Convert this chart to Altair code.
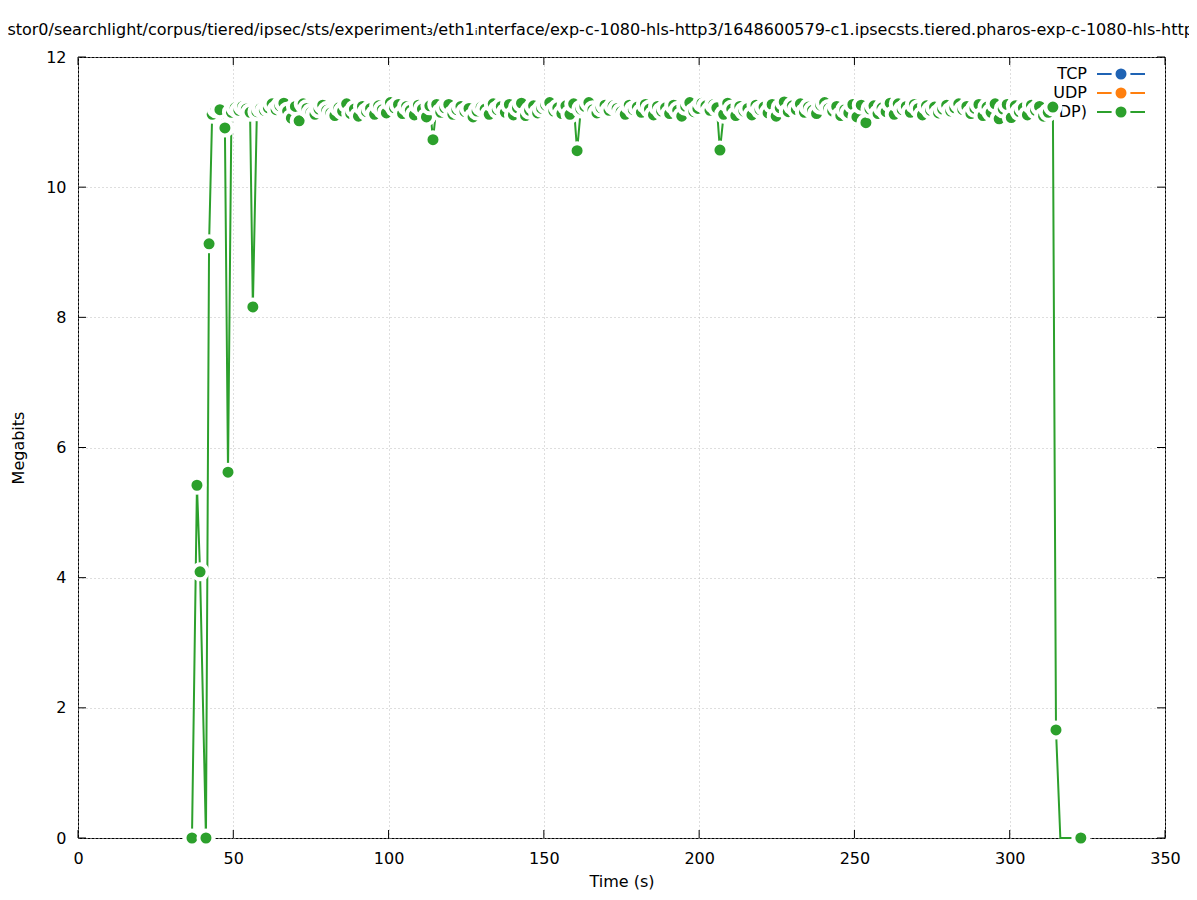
import altair as alt
import pandas as pd

# ---------------- data ----------------
TIME = [
    36.7, 38.3, 39.3, 41.2, 42.2, 43.2, 44.5, 45.7, 47.3, 48.3,
    49.4, 50.6, 51.8, 53.0, 54.2, 55.4, 56.3, 57.6, 58.8, 60.0,
    61.3, 62.5, 63.8, 65.0, 66.3, 67.5, 68.7, 70.0, 71.2, 72.5,
    73.7, 75.0, 76.3, 77.6, 78.8, 80.1, 81.4, 82.7, 84.0, 85.2,
    86.5, 87.8, 89.0, 90.3, 91.6, 92.9, 94.2, 95.5, 96.8, 98.0,
    99.3, 100.6, 101.9, 103.2, 104.5, 105.8, 107.0, 108.3, 109.6, 110.9,
    112.2, 113.3, 114.3, 115.5, 116.8, 118.1, 119.4, 120.7, 122.0, 123.3,
    124.6, 125.9, 127.2, 128.5, 129.8, 131.1, 132.4, 133.7, 135.0, 136.3,
    137.6, 138.9, 140.2, 141.5, 142.8, 144.1, 145.4, 146.7, 148.0, 149.3,
    150.6, 151.9, 153.2, 154.5, 155.8, 157.1, 158.4, 159.6, 160.7, 161.9,
    163.2, 164.5, 165.8, 167.1, 168.4, 169.7, 171.0, 172.3, 173.6, 174.9,
    176.2, 177.5, 178.8, 180.1, 181.4, 182.7, 184.0, 185.3, 186.6, 187.9,
    189.2, 190.5, 191.8, 193.1, 194.4, 195.7, 197.0, 198.3, 199.6, 200.9,
    202.2, 203.5, 204.7, 205.7, 206.7, 207.9, 209.2, 210.5, 211.8, 213.1,
    214.4, 215.7, 217.0, 218.3, 219.6, 220.9, 222.2, 223.5, 224.8, 226.1,
    227.4, 228.7, 230.0, 231.3, 232.6, 233.9, 235.2, 236.5, 237.8, 239.1,
    240.4, 241.7, 243.0, 244.3, 245.6, 246.9, 248.2, 249.5, 250.8, 252.2,
    253.7, 255.0, 256.3, 257.6, 258.9, 260.2, 261.5, 262.8, 264.1, 265.4,
    266.7, 268.0, 269.3, 270.6, 271.9, 273.2, 274.5, 275.8, 277.1, 278.4,
    279.7, 281.0, 282.3, 283.6, 284.9, 286.2, 287.5, 288.8, 290.1, 291.4,
    292.7, 294.0, 295.3, 296.6, 297.9, 299.2, 300.5, 301.8, 303.1, 304.4,
    305.7, 307.0, 308.3, 309.6, 310.9, 312.4, 313.9, 314.9, 316.3, 322.9,
]
MBITS = [
    0.00, 5.42, 4.09, 0.00, 9.13, 11.12, 11.20, 11.19, 10.91, 5.62,
    11.15, 11.22, 11.18, 11.24, 11.20, 11.15, 8.16, 11.16, 11.21, 11.18,
    11.22, 11.28, 11.19, 11.25, 11.29, 11.17, 11.06, 11.24, 11.02, 11.28,
    11.21, 11.15, 11.12, 11.20, 11.26, 11.18, 11.14, 11.10, 11.22, 11.17,
    11.28, 11.13, 11.20, 11.09, 11.24, 11.16, 11.21, 11.12, 11.25, 11.19,
    11.14, 11.30, 11.22, 11.27, 11.13, 11.24, 11.18, 11.11, 11.26, 11.20,
    11.08, 11.25, 10.73, 11.27, 11.15, 11.22, 11.27, 11.12, 11.19, 11.24,
    11.16, 11.21, 11.08, 11.17, 11.23, 11.20, 11.12, 11.28, 11.19, 11.24,
    11.15, 11.27, 11.11, 11.22, 11.29, 11.10, 11.18, 11.25, 11.14, 11.21,
    11.26, 11.30, 11.17, 11.22, 11.13, 11.25, 11.12, 11.28, 10.56, 11.20,
    11.24, 11.30, 11.19, 11.14, 11.22, 11.26, 11.18, 11.25, 11.21, 11.16,
    11.12, 11.26, 11.19, 11.23, 11.15, 11.27, 11.20, 11.11, 11.24, 11.17,
    11.22, 11.13, 11.26, 11.18, 11.09, 11.24, 11.30, 11.16, 11.21, 11.29,
    11.25, 11.18, 11.27, 11.22, 10.57, 11.12, 11.29, 11.20, 11.10, 11.24,
    11.17, 11.21, 11.11, 11.26, 11.19, 11.23, 11.14, 11.27, 11.09, 11.22,
    11.31, 11.16, 11.25, 11.19, 11.28, 11.15, 11.23, 11.18, 11.13, 11.26,
    11.30, 11.21, 11.17, 11.24, 11.10, 11.19, 11.14, 11.27, 11.08, 11.26,
    10.99, 11.20, 11.25, 11.13, 11.22, 11.16, 11.29, 11.12, 11.28, 11.19,
    11.24, 11.15, 11.27, 11.21, 11.11, 11.25, 11.18, 11.23, 11.14, 11.20,
    11.26, 11.17, 11.22, 11.28, 11.19, 11.24, 11.13, 11.21, 11.27, 11.10,
    11.23, 11.15, 11.28, 11.05, 11.20, 11.27, 11.07, 11.25, 11.16, 11.22,
    11.11, 11.26, 11.18, 11.24, 11.09, 11.15, 11.23, 1.66, 0.00, 0.00,
]
HIDDEN_MARKER_TIMES = [316.3]

X_TICKS = [0, 50, 100, 150, 200, 250, 300, 350]
Y_TICKS = [0, 2, 4, 6, 8, 10, 12]

SERIES = ["TCP", "UDP", "Total (TCP+UDP)"]
SERIES_COLORS = ["#1f63b4", "#ff7f0e", "#2ca02c"]

TITLE = ("/stor0/searchlight/corpus/tiered/ipsec/sts/experiment\u2083/eth1\u1d62nterface/"
         "exp-c-1080-hls-http3/1648600579-c1.ipsecsts.tiered.pharos-exp-c-1080-hls-http3.pcap")

# ---------------- layout ----------------
W, H = 1087, 781
FONT = "DejaVu Sans"
GREEN = SERIES_COLORS[2]
PT_SIZE = 225
PT_STROKE = 4
TICK = 8

df = pd.DataFrame({"t": TIME, "mb": MBITS})
df["marker"] = ~df["t"].isin(HIDDEN_MARKER_TIMES)

xs = alt.Scale(domain=[0, 350], nice=False, zero=False)
ys = alt.Scale(domain=[0, 12], nice=False)

line = alt.Chart(df).mark_line(color=GREEN, strokeWidth=2).encode(
    x=alt.X("t:Q", scale=xs, axis=alt.Axis(values=X_TICKS, title="Time (s)", grid=True,
                                           ticks=False, tickSize=0, domain=False,
                                           format="d", labelFlush=False,
                                           labelPadding=12, titlePadding=7)),
    y=alt.Y("mb:Q", scale=ys, axis=alt.Axis(values=Y_TICKS, title="Megabits", grid=True,
                                            ticks=False, tickSize=0, domain=False,
                                            format="d", labelFlush=False,
                                            labelPadding=12, titlePadding=19)),
    order=alt.Order("t:Q"),
)

points = alt.Chart(df).transform_filter("datum.marker").mark_circle(
    size=PT_SIZE, color=GREEN, stroke="white", strokeWidth=PT_STROKE, opacity=1
).encode(x="t:Q", y="mb:Q")

xt = pd.DataFrame({"t": X_TICKS})
yt = pd.DataFrame({"mb": Y_TICKS})
ticks = [
    alt.Chart(xt).mark_rule(color="black", strokeWidth=1).encode(
        x="t:Q", y=alt.value(H), y2=alt.value(H - TICK)),
    alt.Chart(xt).mark_rule(color="black", strokeWidth=1).encode(
        x="t:Q", y=alt.value(0), y2=alt.value(TICK)),
    alt.Chart(yt).mark_rule(color="black", strokeWidth=1).encode(
        y="mb:Q", x=alt.value(0), x2=alt.value(TICK)),
    alt.Chart(yt).mark_rule(color="black", strokeWidth=1).encode(
        y="mb:Q", x=alt.value(W), x2=alt.value(W - TICK)),
]

legend_layers = []
for i, (lab, col) in enumerate(zip(SERIES, SERIES_COLORS)):
    yy = 17 + 19 * i
    ld = pd.DataFrame({"label": [lab]})
    legend_layers.append(alt.Chart(ld).mark_text(
        align="right", baseline="middle", font=FONT, fontSize=16, color="black"
    ).encode(text="label:N", x=alt.value(1009), y=alt.value(yy)))
    legend_layers.append(alt.Chart(ld).mark_rule(color=col, strokeWidth=2).encode(
        x=alt.value(1019), x2=alt.value(1067), y=alt.value(yy)))
    legend_layers.append(alt.Chart(ld).mark_circle(
        size=PT_SIZE, color=col, stroke="white", strokeWidth=PT_STROKE, opacity=1
    ).encode(x=alt.value(1043), y=alt.value(yy)))

title = alt.Chart(pd.DataFrame({"title": [TITLE]})).mark_text(
    align="left", baseline="middle", font=FONT, fontSize=16, color="black"
).encode(text="title:N", x=alt.value(-76), y=alt.value(-27))

chart = alt.layer(line, *ticks, *legend_layers, points, title).properties(
    width=W, height=H,
    autosize=alt.AutoSizeParams(type="none"),
    padding={"left": 70, "top": 49, "right": 24, "bottom": 54},
).configure_view(
    stroke="black", strokeWidth=1, fill="white"
).configure_axis(
    labelFont=FONT, labelFontSize=16, labelColor="black",
    titleFont=FONT, titleFontSize=16, titleFontWeight="normal", titleColor="black",
    gridColor="#bdbdbd", gridDash=[1, 3], gridWidth=1,
)

chart.save("out.html", embed_options={"renderer": "svg", "actions": False})
